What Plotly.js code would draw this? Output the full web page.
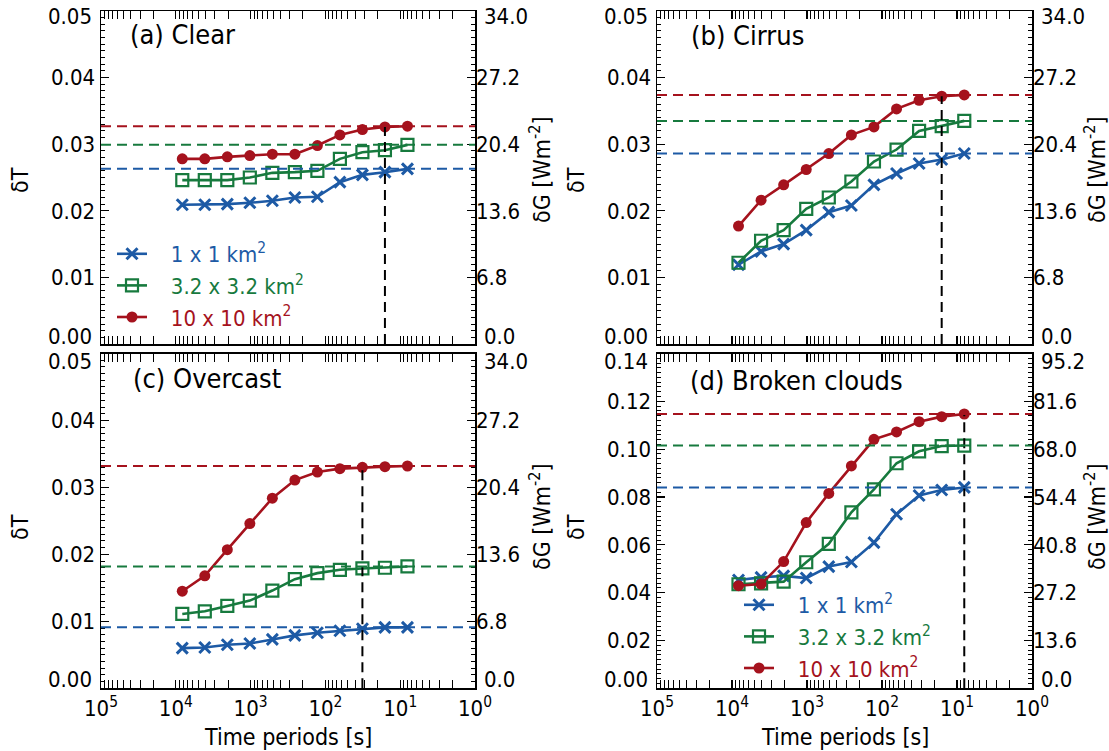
<!DOCTYPE html>
<html>
<head>
<meta charset="utf-8">
<script src="https://cdn.plot.ly/plotly-3.0.1.min.js"></script>
<style>html,body{margin:0;padding:0;background:#fff;}</style>
</head>
<body>
<div id="chart" style="width:1109px;height:751px;"></div>
<script>
// ---------------- DATA ----------------
const periods = [8192, 4096, 2048, 1024, 512, 256, 128, 64, 32, 16, 8];

const seriesNames = ['1 x 1 km<sup>2</sup>', '3.2 x 3.2 km<sup>2</sup>', '10 x 10 km<sup>2</sup>'];
const panelTitles = ['(a) Clear', '(b) Cirrus', '(c) Overcast', '(d) Broken clouds'];

const clear1  = [0.0209, 0.0209, 0.0210, 0.0212, 0.0215, 0.0220, 0.0221, 0.0243, 0.0254, 0.0258, 0.0263];
const clear3  = [0.0246, 0.0246, 0.0246, 0.0250, 0.0257, 0.0258, 0.0260, 0.0278, 0.0288, 0.0291, 0.0299];
const clear10 = [0.0278, 0.0278, 0.0281, 0.0283, 0.0285, 0.0285, 0.0298, 0.0314, 0.0322, 0.0326, 0.0327];

const cirrus1  = [0.0119, 0.0139, 0.0150, 0.0171, 0.0198, 0.0208, 0.0239, 0.0256, 0.0271, 0.0277, 0.0286];
const cirrus3  = [0.0122, 0.0155, 0.0171, 0.0203, 0.0220, 0.0244, 0.0274, 0.0292, 0.0320, 0.0327, 0.0335];
const cirrus10 = [0.0177, 0.0216, 0.0239, 0.0262, 0.0286, 0.0314, 0.0326, 0.0353, 0.0366, 0.0372, 0.0374];

const overcast1  = [0.0060, 0.0061, 0.0065, 0.0067, 0.0073, 0.0079, 0.0083, 0.0086, 0.0089, 0.0091, 0.0091];
const overcast3  = [0.0111, 0.0115, 0.0123, 0.0131, 0.0146, 0.0163, 0.0172, 0.0177, 0.0179, 0.0180, 0.0182];
const overcast10 = [0.0145, 0.0168, 0.0207, 0.0246, 0.0284, 0.0311, 0.0323, 0.0328, 0.0330, 0.0331, 0.0332];

const broken1  = [0.0453, 0.0464, 0.0470, 0.0461, 0.0509, 0.0528, 0.0609, 0.0728, 0.0806, 0.0829, 0.0840];
const broken3  = [0.0435, 0.0439, 0.0446, 0.0527, 0.0604, 0.0736, 0.0832, 0.0941, 0.0991, 0.1013, 0.1015];
const broken10 = [0.0429, 0.0436, 0.0530, 0.0693, 0.0815, 0.0930, 0.1041, 0.1072, 0.1115, 0.1136, 0.1147];

// cut-off period (vertical dashed line) per panel
const cutoffPeriods = [16, 16, 32, 8];

// tick labels
const xTickVals = [1e5, 1e4, 1e3, 1e2, 1e1, 1e0];
const xTickText = ['10<sup>5</sup>', '10<sup>4</sup>', '10<sup>3</sup>', '10<sup>2</sup>', '10<sup>1</sup>', '10<sup>0</sup>'];
const dTTicks   = [0.00, 0.01, 0.02, 0.03, 0.04, 0.05];
const dGTicks   = [0.0, 6.8, 13.6, 20.4, 27.2, 34.0];
const dTTicksD  = [0.00, 0.02, 0.04, 0.06, 0.08, 0.10, 0.12, 0.14];
const dGTicksD  = [0.0, 13.6, 27.2, 40.8, 54.4, 68.0, 81.6, 95.2];

// ---------------- STYLE ----------------
const W = 1109, H = 751;
const FONT = "'DejaVu Sans Condensed', 'DejaVu Sans', sans-serif";
const TICK_SIZE = 22;
const colors = ['#1d5aa5', '#177a3e', '#a5121d'];
const markers = [
  {symbol: 'x-thin', size: 11, line: {width: 3, color: colors[0]}, color: colors[0]},
  {symbol: 'square-open', size: 12, line: {width: 2.2, color: colors[1]}, color: colors[1]},
  {symbol: 'circle', size: 11, color: colors[2], line: {width: 0}}
];

const panels = [
  {xa: 'x',  ya: 'y',  ya2: 'y2', data: [clear1, clear3, clear10],          legend: 'legend',  dT: dTTicks,  dG: dGTicks},
  {xa: 'x2', ya: 'y3', ya2: 'y4', data: [cirrus1, cirrus3, cirrus10],       legend: null,      dT: dTTicks,  dG: dGTicks},
  {xa: 'x3', ya: 'y5', ya2: 'y6', data: [overcast1, overcast3, overcast10], legend: null,      dT: dTTicks,  dG: dGTicks},
  {xa: 'x4', ya: 'y7', ya2: 'y8', data: [broken1, broken3, broken10],       legend: 'legend2', dT: dTTicksD, dG: dGTicksD}
];

const px = v => v / W;
const py = v => 1 - v / H;
const xDom = [[px(101), px(475)], [px(657), px(1032)]];
const yDom = [[py(344), py(11)], [py(688.3), py(353.5)]];

const traces = [];
const shapes = [];
const annotations = [];
const layout = {
  width: W, height: H,
  margin: {l: 0, r: 0, t: 0, b: 0, autoexpand: false},
  paper_bgcolor: '#fff', plot_bgcolor: 'rgba(0,0,0,0)',
  font: {family: FONT, size: TICK_SIZE, color: '#000'},
  showlegend: true
};

function axName(id) { return id === 'x' ? 'xaxis' : id === 'y' ? 'yaxis' : (id[0] + 'axis' + id.slice(1)); }
// end labels are drawn just inside the axis ends (as in the reference)
function endText(vals, digits) {
  return vals.map((v, j) => (j === 0 || j === vals.length - 1) ? '' : v.toFixed(digits));
}

panels.forEach((p, i) => {
  const col = i % 2, row = Math.floor(i / 2);
  const dTmax = p.dT[p.dT.length - 1], dGmax = p.dG[p.dG.length - 1];
  // x axis
  layout[axName(p.xa)] = {
    domain: xDom[col], anchor: p.ya, type: 'log', range: [5, 0],
    tickmode: 'array', tickvals: xTickVals, ticktext: xTickText,
    showticklabels: row === 1, ticklabeloverflow: 'allow',
    ticks: 'inside', ticklen: 8, tickwidth: 1.2, tickcolor: '#000',
    minor: {ticks: 'inside', ticklen: 4, tickwidth: 1, dtick: 'D1', tickcolor: '#000', showgrid: false},
    showline: true, linecolor: '#000', linewidth: 1.5, mirror: 'allticks',
    showgrid: false, zeroline: false,
    tickfont: {family: FONT, size: TICK_SIZE}
  };
  // left y axis (dT)
  layout[axName(p.ya)] = {
    domain: yDom[row], anchor: p.xa, range: [0, dTmax],
    tickmode: 'array', tickvals: p.dT, ticktext: endText(p.dT, 2), ticklabeloverflow: 'allow',
    ticks: 'inside', ticklen: 8, tickwidth: 1.2, tickcolor: '#000',
    minor: {ticks: 'inside', ticklen: 4, tickwidth: 1, dtick: (p.dT[1] - p.dT[0]) / 10, tick0: 0, tickcolor: '#000', showgrid: false},
    showline: true, linecolor: '#000', linewidth: 1.5, mirror: 'allticks',
    showgrid: false, zeroline: false,
    tickfont: {family: FONT, size: TICK_SIZE}
  };
  // right y axis (dG)
  layout[axName(p.ya2)] = {
    overlaying: p.ya, anchor: p.xa, side: 'right', range: [0, dGmax],
    tickmode: 'array', tickvals: p.dG, ticktext: endText(p.dG, 1), ticklabeloverflow: 'allow',
    ticks: 'inside', ticklen: 8, tickwidth: 1.2, tickcolor: '#000',
    minor: {ticks: 'inside', ticklen: 4, tickwidth: 1, dtick: (p.dG[1] - p.dG[0]) / 10, tick0: 0, tickcolor: '#000', showgrid: false},
    showline: false, showgrid: false, zeroline: false,
    tickfont: {family: FONT, size: TICK_SIZE}
  };
  traces.push({x: [], y: [], xaxis: p.xa, yaxis: p.ya2, type: 'scatter', mode: 'lines', showlegend: false, hoverinfo: 'skip'});

  // end tick labels (shifted inward)
  const topShift = row === 0 ? -5 : -8;
  const botShift = row === 0 ? 8 : 9;
  [[p.dT, 2, p.ya, xDom[col][0], 'right', -7], [p.dG, 1, p.ya2, xDom[col][1], 'left', 7]].forEach(([vals, dg, yr, xp, anc, xs]) => {
    annotations.push({text: vals[0].toFixed(dg), xref: 'paper', x: xp, xanchor: anc, xshift: xs,
      yref: yr, y: vals[0], yanchor: 'middle', yshift: botShift, showarrow: false,
      font: {family: FONT, size: TICK_SIZE, color: '#000'}});
    annotations.push({text: vals[vals.length - 1].toFixed(dg), xref: 'paper', x: xp, xanchor: anc, xshift: xs,
      yref: yr, y: vals[vals.length - 1], yanchor: 'middle', yshift: topShift, showarrow: false,
      font: {family: FONT, size: TICK_SIZE, color: '#000'}});
  });

  // series
  p.data.forEach((ys, k) => {
    const t = {
      x: periods, y: ys, xaxis: p.xa, yaxis: p.ya, type: 'scatter', mode: 'lines+markers',
      line: {color: colors[k], width: 2.6},
      marker: markers[k],
      name: '\u00a0\u00a0\u00a0<span style="color:' + colors[k] + '">' + seriesNames[k] + '</span>',
      showlegend: !!p.legend,
      cliponaxis: false
    };
    if (p.legend) t.legend = p.legend;
    traces.push(t);
    // saturation level (dashed line at the last value)
    shapes.push({
      type: 'line', xref: p.xa + ' domain', x0: 0, x1: 1,
      yref: p.ya, y0: ys[ys.length - 1], y1: ys[ys.length - 1],
      line: {color: colors[k], width: 2, dash: '10px,6px'}, layer: 'above'
    });
  });

  // vertical cut-off line
  const ci = periods.indexOf(cutoffPeriods[i]);
  traces.push({
    x: [cutoffPeriods[i], cutoffPeriods[i]], y: [0, p.data[2][ci]],
    xaxis: p.xa, yaxis: p.ya, type: 'scatter', mode: 'lines',
    line: {color: '#000', width: 2, dash: '10px,6px'}, showlegend: false, hoverinfo: 'skip'
  });

  // panel title
  const titlePos = [[128, 34], [689, 35], [131, 378], [688, 380]][i];
  annotations.push({
    text: panelTitles[i], xref: 'paper', yref: 'paper', x: px(titlePos[0]), y: py(titlePos[1]),
    xanchor: 'left', yanchor: 'middle', showarrow: false, font: {family: FONT, size: 27, color: '#000'}
  });
  // axis titles
  const leftX = col === 0 ? 20 : 576;
  const rightX = col === 0 ? 540 : 1095;
  const dTY = row === 0 ? 180 : 527;
  const dGY = row === 0 ? 170 : 517;
  annotations.push({
    text: 'δT', xref: 'paper', yref: 'paper', x: px(leftX), y: py(dTY), textangle: -90,
    xanchor: 'center', yanchor: 'middle', showarrow: false, font: {family: FONT, size: 23, color: '#000'}
  });
  annotations.push({
    text: 'δG [Wm<sup>-2</sup>]', xref: 'paper', yref: 'paper', x: px(rightX), y: py(dGY), textangle: -90,
    xanchor: 'center', yanchor: 'middle', showarrow: false, font: {family: FONT, size: 23, color: '#000'}
  });
  if (row === 1) {
    annotations.push({
      text: 'Time periods [s]', xref: 'paper', yref: 'paper',
      x: (xDom[col][0] + xDom[col][1]) / 2, y: py(737),
      xanchor: 'center', yanchor: 'middle', showarrow: false, font: {family: FONT, size: 23, color: '#000'}
    });
  }
});

layout.shapes = shapes;
layout.annotations = annotations;
layout.legend = {
  x: px(112), y: py(233), xanchor: 'left', yanchor: 'top',
  bgcolor: 'rgba(0,0,0,0)', borderwidth: 0, font: {family: FONT, size: 22}, tracegroupgap: 0
};
layout.legend2 = {
  x: px(739), y: py(584), xanchor: 'left', yanchor: 'top',
  bgcolor: 'rgba(0,0,0,0)', borderwidth: 0, font: {family: FONT, size: 22}, tracegroupgap: 0
};

Plotly.newPlot('chart', traces, layout, {displayModeBar: false, staticPlot: true});
</script>
</body>
</html>
